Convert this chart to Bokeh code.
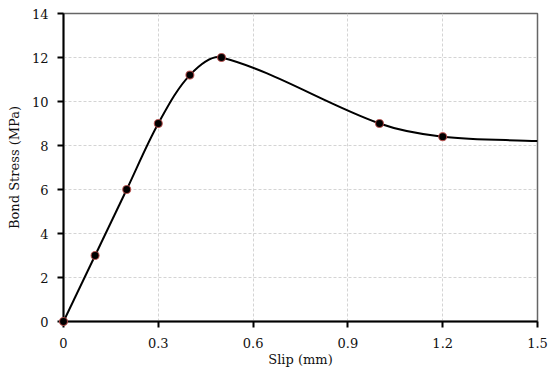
from bokeh.plotting import figure
from bokeh.embed import file_html
from bokeh.resources import INLINE
from bokeh.models import FixedTicker, Range1d
import numpy as np

# Data
slip = [0.0, 0.1, 0.2, 0.3, 0.4, 0.5, 1.0, 1.2]
stress = [0.0, 3.0, 6.0, 9.0, 11.2, 12.0, 9.0, 8.4]
# smoothed curve continues to the end of the axis (no marker there)
curve_slip = [0.0, 0.1, 0.2, 0.3, 0.4, 0.5, 1.0, 1.2, 1.5]
curve_stress = [0.0, 3.0, 6.0, 9.0, 11.2, 12.0, 9.0, 8.4, 8.2]

x_ticks = [0, 0.3, 0.6, 0.9, 1.2, 1.5]
x_tick_labels = ["0", "0.3", "0.6", "0.9", "1.2", "1.5"]
y_ticks = [0, 2, 4, 6, 8, 10, 12, 14]
y_tick_labels = ["0", "2", "4", "6", "8", "10", "12", "14"]

FONT = "DejaVu Serif"

p = figure(width=550, height=375, output_backend="svg", toolbar_location=None,
           x_range=Range1d(0, 1.5), y_range=Range1d(0, 14),
           min_border_left=63, min_border_right=13, min_border_top=13,
           min_border_bottom=54)

# Smoothed line through the points (non-uniform Catmull-Rom tangents,
# evaluated with screen-like aspect so the curve looks even)
sx, sy = 316.0, 22.0
P = np.column_stack([curve_slip, curve_stress]).astype(float)
Q = P * np.array([sx, sy])
n = len(P)
x0, y0, x1, y1, cx0, cy0, cx1, cy1 = [], [], [], [], [], [], [], []

for i in range(n - 1):
    pa, pb = P[i], P[i + 1]
    dab = np.linalg.norm(Q[i + 1] - Q[i])
    if i > 0:
        dpa = np.linalg.norm(Q[i] - Q[i - 1])
        c1 = pa + (pb - P[i - 1]) * (dab / (dab + dpa)) / 3.0
    else:
        c1 = pa + (pb - pa) / 3.0
    if i + 2 < n:
        dbn = np.linalg.norm(Q[i + 2] - Q[i + 1])
        c2 = pb - (P[i + 2] - pa) * (dab / (dab + dbn)) / 3.0
    else:
        c2 = pb - (pb - pa) / 3.0
    x0.append(pa[0]); y0.append(pa[1]); x1.append(pb[0]); y1.append(pb[1])
    cx0.append(c1[0]); cy0.append(c1[1]); cx1.append(c2[0]); cy1.append(c2[1])

p.bezier(x0=x0, y0=y0, x1=x1, y1=y1, cx0=cx0, cy0=cy0, cx1=cx1, cy1=cy1,
         line_color="black", line_width=2)

pts = p.scatter(slip, stress, size=8, fill_color="black", line_color="#c0504d",
                line_width=1.2, line_alpha=0.8)
pts.level = "overlay"

# Axes
for ax in (p.xaxis[0], p.yaxis[0]):
    ax.axis_line_color = "black"
    ax.axis_line_width = 2
    ax.major_tick_line_color = "black"
    ax.major_tick_line_width = 2
    ax.major_tick_out = 6
    ax.major_tick_in = 0
    ax.minor_tick_line_color = None
    ax.major_label_text_font = FONT
    ax.major_label_text_font_size = "13px"
    ax.major_label_text_color = "#111111"
    ax.axis_label_text_font = FONT
    ax.axis_label_text_font_size = "13px"
    ax.axis_label_text_font_style = "normal"
    ax.axis_label_text_color = "#111111"

p.xaxis.ticker = FixedTicker(ticks=x_ticks)
p.yaxis.ticker = FixedTicker(ticks=y_ticks)
p.xaxis.major_label_overrides = dict(zip(x_ticks, x_tick_labels))
p.yaxis.major_label_overrides = dict(zip(y_ticks, y_tick_labels))
p.xaxis.axis_label = "Slip (mm)"
p.yaxis.axis_label = "Bond Stress (MPa)"
p.xaxis.major_label_standoff = 10
p.yaxis.major_label_standoff = 9
p.xaxis.axis_label_standoff = 1
p.yaxis.axis_label_standoff = 7

p.xgrid.ticker = FixedTicker(ticks=x_ticks)
p.ygrid.ticker = FixedTicker(ticks=y_ticks)
for g in (p.xgrid[0], p.ygrid[0]):
    g.grid_line_color = "#d4d4d4"
    g.grid_line_dash = "3 2"
    g.grid_line_width = 1

p.outline_line_color = "#666666"
p.outline_line_width = 1.5
p.background_fill_color = "white"
p.border_fill_color = "white"

open("out.html", "w").write(file_html(p, INLINE))
